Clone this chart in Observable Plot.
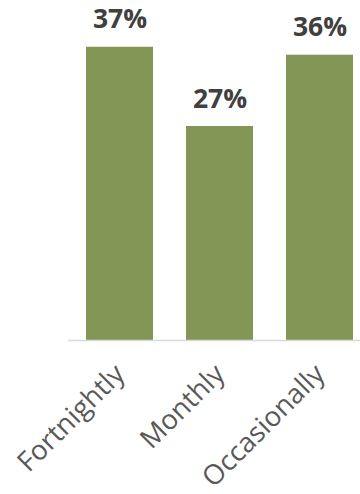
<!DOCTYPE html>
<html><head><meta charset="utf-8">
<script src="https://cdn.jsdelivr.net/npm/d3@7"></script>
<script src="https://cdn.jsdelivr.net/npm/@observablehq/plot@0.6"></script>
<style>
html,body{margin:0;padding:0;background:#fff;overflow:hidden;width:360px;height:494px;}
svg{max-width:none !important;}
</style>
</head><body><div id="chart"></div>
<script>
const categories = ["Fortnightly", "Monthly", "Occasionally"];
const values = [37, 27, 36];
const valueLabels = ["37%", "27%", "36%"];

const data = categories.map((c, i) => ({category: c, value: values[i], label: valueLabels[i]}));

const chart = Plot.plot({
  width: 370,
  height: 494,
  marginLeft: 68,
  marginRight: 0,
  marginTop: 23,
  marginBottom: 154,
  style: {fontFamily: "'Open Sans', sans-serif", background: "#fff", overflow: "visible", maxWidth: "none"},
  x: {domain: categories, paddingInner: 0.333, paddingOuter: 0.1667, align: 0.5, label: null},
  y: {domain: [0, 40], axis: null},
  marks: [
    Plot.barY(data, {x: "category", y: "value", fill: "#849656"}),
    Plot.ruleY([0], {stroke: "#d9d9d9", strokeWidth: 1.5}),
    Plot.text(data, {x: "category", y: "value", text: "label", dy: -19, lineAnchor: "bottom",
      fontSize: 26.5, fontWeight: 700, fill: "#404040"}),
    Plot.axisX({tickSize: 0, tickRotate: -45, tickPadding: 29, fontSize: 27.5, fill: "#595959", label: null})
  ]
});
document.getElementById("chart").appendChild(chart);
</script>
</body></html>
